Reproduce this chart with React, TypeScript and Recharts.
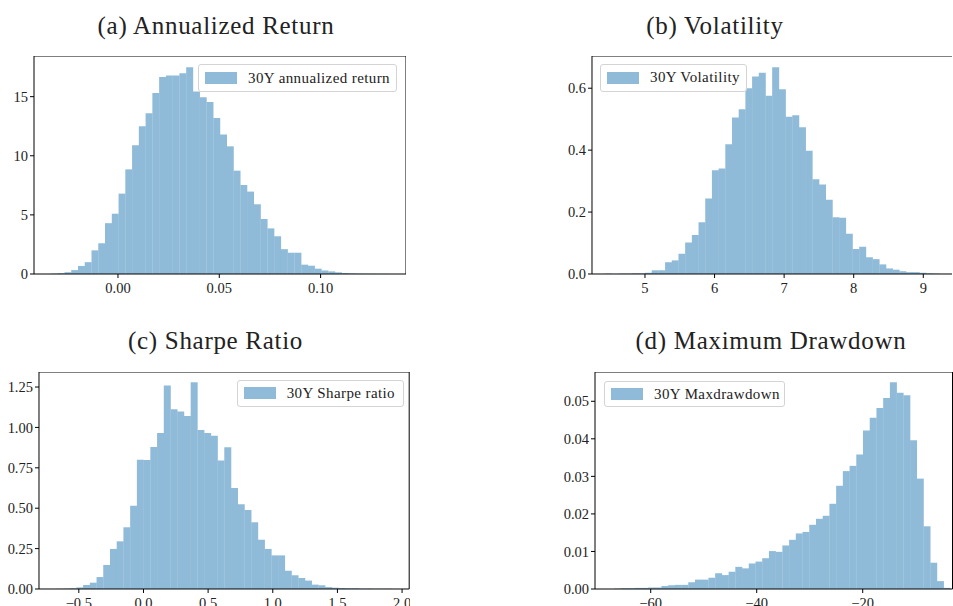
import React from 'react';
import { BarChart, Bar, XAxis, YAxis, ReferenceLine } from 'recharts';

// ---------- data (density per bin, 50 bins each) ----------
const returnDensity = [0.03, 0.06, 0.15, 0.33, 0.68, 1.0, 2.0, 2.6, 4.3, 5.1, 6.8, 8.85, 10.9, 12.5, 13.6, 15.3, 16.67, 16.8, 16.78, 16.98, 17.48, 15.43, 14.95, 14.55, 13.2, 11.8, 10.8, 8.74, 7.53, 6.97, 5.9, 4.65, 3.86, 3.19, 2.1, 1.8, 1.8, 0.79, 0.7, 0.45, 0.3, 0.22, 0.14, 0.08, 0.05, 0.03, 0.02, 0.02, 0.01, 0.01];
const returnBinStart = -0.0331;
const returnBinWidth = 0.003338;
const returnXTicks = [0, 0.05, 0.1];
const returnYTicks = [0, 5, 10, 15];

const volatilityDensity = [0.001, 0.0, 0.001, 0.001, 0.002, 0.002, 0.004, 0.012, 0.012, 0.038, 0.044, 0.065, 0.102, 0.126, 0.167, 0.244, 0.335, 0.341, 0.419, 0.505, 0.532, 0.6, 0.638, 0.65, 0.576, 0.668, 0.597, 0.508, 0.513, 0.474, 0.398, 0.306, 0.289, 0.24, 0.183, 0.182, 0.13, 0.081, 0.088, 0.054, 0.048, 0.031, 0.018, 0.014, 0.009, 0.006, 0.006, 0.004, 0.002, 0.001];
const volatilityBinStart = 4.423;
const volatilityBinWidth = 0.0962;
const volatilityXTicks = [5, 6, 7, 8, 9];
const volatilityYTicks = [0, 0.2, 0.4, 0.6];

const sharpeDensity = [0.001, 0.002, 0.004, 0.01, 0.025, 0.039, 0.074, 0.149, 0.248, 0.295, 0.382, 0.516, 0.8, 0.798, 0.879, 0.965, 1.26, 1.112, 1.099, 1.071, 1.279, 0.984, 0.965, 0.949, 0.796, 0.877, 0.625, 0.524, 0.489, 0.413, 0.305, 0.248, 0.208, 0.208, 0.113, 0.085, 0.068, 0.052, 0.027, 0.023, 0.012, 0.008, 0.006, 0.004, 0.004, 0.002, 0.002, 0.001, 0.001, 0.001];
const sharpeBinStart = -0.675;
const sharpeBinWidth = 0.052;
const sharpeXTicks = [-0.5, 0, 0.5, 1, 1.5, 2];
const sharpeYTicks = [0, 0.25, 0.5, 0.75, 1, 1.25];

const drawdownDensity = [0.0001, 0.0002, 0.0002, 0.0003, 0.0003, 0.0004, 0.0004, 0.0008, 0.001, 0.0011, 0.0011, 0.0018, 0.0025, 0.0025, 0.003, 0.0042, 0.0037, 0.0046, 0.0059, 0.0055, 0.0068, 0.0073, 0.0082, 0.0101, 0.0099, 0.0116, 0.0131, 0.0148, 0.0152, 0.0171, 0.0187, 0.0195, 0.0227, 0.0275, 0.0314, 0.0328, 0.0358, 0.0422, 0.0456, 0.0482, 0.0509, 0.0551, 0.0523, 0.0516, 0.0396, 0.0294, 0.0167, 0.007, 0.0021, 0.0003];
const drawdownBinStart = -66.86;
const drawdownBinWidth = 1.268;
const drawdownXTicks = [-60, -40, -20];
const drawdownYTicks = [0, 0.01, 0.02, 0.03, 0.04, 0.05];

const titles = ['(a) Annualized Return', '(b) Volatility', '(c) Sharpe Ratio', '(d) Maximum Drawdown'];
const legendLabels = ['30Y annualized return', '30Y Volatility', '30Y Sharpe ratio', '30Y Maxdrawdown'];

// ---------- helpers ----------
const FONT = '"Liberation Serif", "Times New Roman", serif';
const TEXT = '#222';
const BAR = '#8fbbd9';

const signed = (digits: number) => (v: number) => {
  const s = Math.abs(v).toFixed(digits);
  return v < 0 ? '\u2212' + s : s;
};

type Box = { left: number; top: number; width: number; height: number };

type PanelProps = {
  density: number[];
  binStart: number;
  binWidth: number;
  xDomain: [number, number];
  yDomain: [number, number];
  xTicks: number[];
  yTicks: number[];
  xFmt: (v: number) => string;
  yFmt: (v: number) => string;
  box: Box;
  legendLabel: string;
  legendBox: Box;
  title: string;
  titleX: number;
  titleBaseline: number;
};

const YW = 60;
const XH = 40;

function Panel(p: PanelProps) {
  const rows = p.density.map((d, i) => ({
    bin: i,
    center: p.binStart + (i + 0.5) * p.binWidth,
    density: d,
  }));
  const pxPerUnit = p.box.width / (p.xDomain[1] - p.xDomain[0]);
  const binEnd = p.binStart + p.density.length * p.binWidth;
  const padLeft = (p.binStart - p.xDomain[0]) * pxPerUnit;
  const padRight = (p.xDomain[1] - binEnd) * pxPerUnit;
  const tickStyle = { fontFamily: FONT, fontSize: 14.5, fill: TEXT };
  const titleSize = 25;
  return (
    <>
      <div style={{ position: 'absolute', left: p.box.left - YW, top: p.box.top }}>
        <BarChart
          width={YW + p.box.width}
          height={p.box.height + XH}
          data={rows}
          margin={{ top: 0, right: 0, bottom: 0, left: 0 }}
          barCategoryGap={0}
          barGap={0}
        >
          <XAxis
            xAxisId="cat"
            dataKey="bin"
            type="category"
            hide
            height={0}
            padding={{ left: padLeft, right: padRight }}
          />
          <XAxis
            xAxisId="num"
            dataKey="center"
            type="number"
            domain={p.xDomain}
            allowDataOverflow
            ticks={p.xTicks}
            interval={0}
            tickFormatter={p.xFmt}
            height={XH}
            tickSize={4}
            tickMargin={5}
            axisLine={{ stroke: '#000', strokeWidth: 1 }}
            tickLine={{ stroke: '#000', strokeWidth: 1 }}
            tick={tickStyle}
          />
          <YAxis
            type="number"
            domain={p.yDomain}
            allowDataOverflow
            ticks={p.yTicks}
            interval={0}
            tickFormatter={p.yFmt}
            width={YW}
            tickSize={4}
            tickMargin={2}
            axisLine={{ stroke: '#000', strokeWidth: 1 }}
            tickLine={{ stroke: '#000', strokeWidth: 1 }}
            tick={tickStyle}
          />
          <Bar
            xAxisId="cat"
            dataKey="density"
            fill={BAR}
            isAnimationActive={false}
          />
          <ReferenceLine xAxisId="num" x={p.xDomain[1]} stroke="#000" strokeWidth={1} />
          <ReferenceLine xAxisId="num" y={p.yDomain[1]} stroke="#000" strokeWidth={1} />
        </BarChart>
      </div>
      <div
        style={{
          position: 'absolute',
          left: p.legendBox.left,
          top: p.legendBox.top,
          width: p.legendBox.width,
          height: p.legendBox.height,
          boxSizing: 'border-box',
          border: '1px solid #d4d4d4',
          borderRadius: 3,
          background: 'rgba(255,255,255,0.8)',
        }}
      >
        <span
          style={{
            position: 'absolute',
            left: 6,
            top: (p.legendBox.height - 2 - 12) / 2,
            width: 32,
            height: 12,
            background: BAR,
          }}
        />
        <span
          style={{
            position: 'absolute',
            left: 49,
            top: 0,
            lineHeight: `${p.legendBox.height - 2}px`,
            fontFamily: FONT,
            fontSize: 15,
            letterSpacing: 0.4,
            color: TEXT,
            whiteSpace: 'nowrap',
          }}
        >
          {p.legendLabel}
        </span>
      </div>
      <div
        style={{
          position: 'absolute',
          left: p.titleX - 250,
          width: 500,
          top: p.titleBaseline - 21,
          textAlign: 'center',
          fontFamily: FONT,
          fontSize: titleSize,
          lineHeight: 1,
          letterSpacing: 0.7,
          color: TEXT,
          whiteSpace: 'nowrap',
        }}
      >
        {p.title}
      </div>
    </>
  );
}

export default function App() {
  return (
    <div
      style={{
        position: 'absolute',
        left: 0,
        top: 0,
        width: 953,
        height: 606,
        overflow: 'hidden',
        background: '#fff',
      }}
    >
      <Panel
        density={returnDensity}
        binStart={returnBinStart}
        binWidth={returnBinWidth}
        xDomain={[-0.04145, 0.14215]}
        yDomain={[0, 18.44]}
        xTicks={returnXTicks}
        yTicks={returnYTicks}
        xFmt={signed(2)}
        yFmt={signed(0)}
        box={{ left: 34, top: 56, width: 372, height: 218 }}
        legendLabel={legendLabels[0]}
        legendBox={{ left: 198, top: 64, width: 199, height: 28 }}
        title={titles[0]}
        titleX={216}
        titleBaseline={34}
      />
      <Panel
        density={volatilityDensity}
        binStart={volatilityBinStart}
        binWidth={volatilityBinWidth}
        xDomain={[4.2385, 9.424]}
        yDomain={[0, 0.704]}
        xTicks={volatilityXTicks}
        yTicks={volatilityYTicks}
        xFmt={signed(0)}
        yFmt={signed(1)}
        box={{ left: 591.7, top: 56, width: 360.8, height: 218 }}
        legendLabel={legendLabels[1]}
        legendBox={{ left: 600, top: 64.3, width: 147, height: 27.4 }}
        title={titles[1]}
        titleX={715}
        titleBaseline={34}
      />
      <Panel
        density={sharpeDensity}
        binStart={sharpeBinStart}
        binWidth={sharpeBinWidth}
        xDomain={[-0.808, 2.055]}
        yDomain={[0, 1.343]}
        xTicks={sharpeXTicks}
        yTicks={sharpeYTicks}
        xFmt={signed(1)}
        yFmt={signed(2)}
        box={{ left: 39.3, top: 372.3, width: 370.2, height: 217 }}
        legendLabel={legendLabels[2]}
        legendBox={{ left: 236.7, top: 380, width: 167, height: 26.7 }}
        title={titles[2]}
        titleX={215.5}
        titleBaseline={349}
      />
      <Panel
        density={drawdownDensity}
        binStart={drawdownBinStart}
        binWidth={drawdownBinWidth}
        xDomain={[-70.51, -3.06]}
        yDomain={[0, 0.0578]}
        xTicks={drawdownXTicks}
        yTicks={drawdownYTicks}
        xFmt={signed(0)}
        yFmt={signed(2)}
        box={{ left: 595, top: 372.3, width: 357.5, height: 217 }}
        legendLabel={legendLabels[3]}
        legendBox={{ left: 604, top: 380.7, width: 181, height: 26.6 }}
        title={titles[3]}
        titleX={771}
        titleBaseline={349}
      />
    </div>
  );
}
